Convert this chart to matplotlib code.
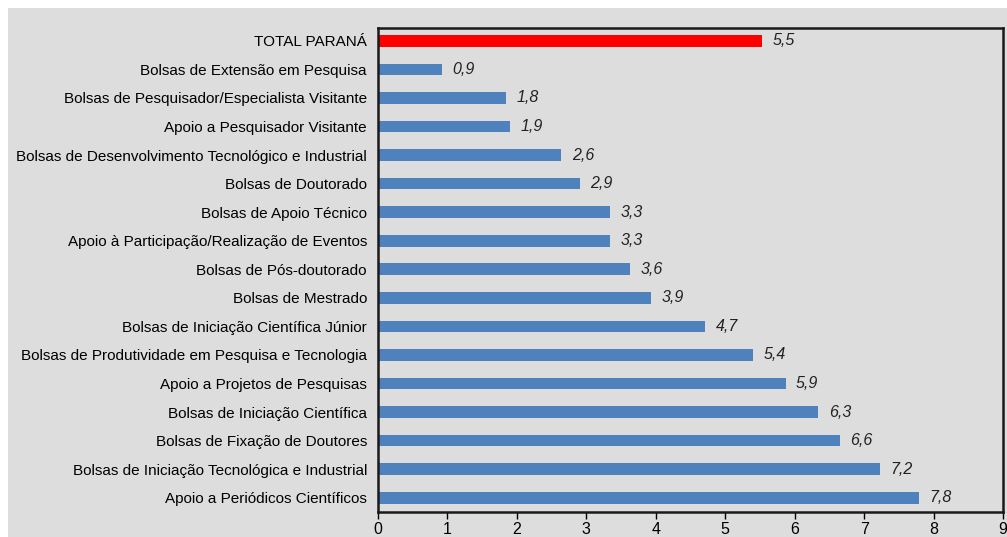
import matplotlib.pyplot as plt
from matplotlib.patches import Rectangle

categories = [
    'TOTAL PARANÁ',
    'Bolsas de Extensão em Pesquisa',
    'Bolsas de Pesquisador/Especialista Visitante',
    'Apoio a Pesquisador Visitante',
    'Bolsas de Desenvolvimento Tecnológico e Industrial',
    'Bolsas de Doutorado',
    'Bolsas de Apoio Técnico',
    'Apoio à Participação/Realização de Eventos',
    'Bolsas de Pós-doutorado',
    'Bolsas de Mestrado',
    'Bolsas de Iniciação Científica Júnior',
    'Bolsas de Produtividade em Pesquisa e Tecnologia',
    'Apoio a Projetos de Pesquisas',
    'Bolsas de Iniciação Científica',
    'Bolsas de Fixação de Doutores',
    'Bolsas de Iniciação Tecnológica e Industrial',
    'Apoio a Periódicos Científicos',
]
# bar lengths (labels show the rounded figure)
values = [5.53, 0.92, 1.84, 1.90, 2.64, 2.91, 3.34, 3.34, 3.63, 3.93,
          4.71, 5.40, 5.87, 6.34, 6.65, 7.23, 7.79]
labels = ['5,5', '0,9', '1,8', '1,9', '2,6', '2,9', '3,3', '3,3', '3,6', '3,9',
          '4,7', '5,4', '5,9', '6,3', '6,6', '7,2', '7,8']
xticks = list(range(10))

BG = '#dddddd'
plt.rcParams['font.family'] = ['Liberation Sans Narrow', 'Liberation Sans', 'DejaVu Sans']

fig = plt.figure(figsize=(10.07, 5.37), dpi=100)
fig.patch.set_facecolor('white')
fig.patches.append(Rectangle((8 / 1007, 0), 1 - 8 / 1007, 1 - 8 / 537,
                             transform=fig.transFigure, facecolor=BG,
                             edgecolor='none', zorder=-10))

ax = fig.add_axes([378 / 1007, 1 - 512 / 537, (1003 - 378) / 1007, (512 - 28) / 537])
ax.set_facecolor(BG)

pos = list(range(len(categories)))
colors = ['#ff0000'] + ['#4f81bd'] * (len(categories) - 1)
ax.barh(pos, values, height=0.41, color=colors, zorder=2)

for p, v, lab in zip(pos, values, labels):
    ax.text(v + 0.15, p, lab, va='center', ha='left',
            fontsize=11.5, style='italic', color='#222222')

ax.set_xlim(0, 9)
ax.set_ylim(16.5, -0.45)
ax.set_xticks(xticks)
ax.set_xticklabels([str(t) for t in xticks], fontsize=11.5)
ax.set_yticks(pos)
ax.set_yticklabels(categories, fontsize=11)
ax.tick_params(axis='y', length=0, pad=8)
ax.tick_params(axis='x', length=5, width=1, pad=2)

for s in ax.spines.values():
    s.set_linewidth(1.8)
    s.set_color('#1a1a1a')

fig.savefig('out.png', dpi=100, facecolor='white')
